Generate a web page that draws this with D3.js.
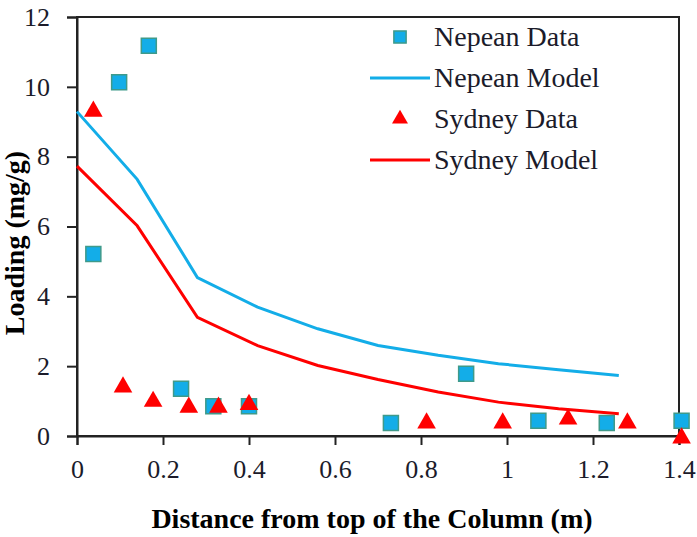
<!DOCTYPE html>
<html>
<head>
<meta charset="utf-8">
<script src="https://cdn.jsdelivr.net/npm/d3@7"></script>
<style>
  body { margin: 0; background: #fff; }
  text { font-family: "Liberation Serif", "Times New Roman", serif; }
</style>
</head>
<body>
<div id="chart"></div>
<script>
// Nepean / Sydney column data
const nepeanX = [0.038, 0.098, 0.167, 0.242, 0.317, 0.40, 0.730, 0.905, 1.073, 1.232, 1.406];
const nepeanY = [5.21, 10.13, 11.18, 1.35, 0.85, 0.85, 0.37, 1.78, 0.44, 0.37, 0.44];
const sydneyX = [0.038, 0.107, 0.177, 0.26, 0.329, 0.40, 0.813, 0.99, 1.142, 1.28, 1.406];
const sydneyY = [9.3, 1.4, 0.99, 0.82, 0.82, 0.9, 0.37, 0.37, 0.48, 0.37, -0.06];

const modelX = [0, 0.14, 0.28, 0.42, 0.56, 0.70, 0.84, 0.98, 1.12, 1.26];
const nepeanModel = [9.29, 7.35, 4.54, 3.69, 3.07, 2.59, 2.31, 2.07, 1.90, 1.73];
const sydneyModel = [7.73, 6.02, 3.40, 2.59, 2.02, 1.62, 1.26, 0.97, 0.78, 0.64];

const xTicks = [0, 0.2, 0.4, 0.6, 0.8, 1, 1.2, 1.4];
const yTicks = [0, 2, 4, 6, 8, 10, 12];

const width = 697, height = 537;
const margin = {top: 17, right: 18, bottom: 101, left: 77};

const blue = "#13ade8", red = "#ff0000";

const svg = d3.select("#chart").append("svg")
    .attr("width", width)
    .attr("height", height);

const x = d3.scaleLinear().domain([0, 1.4]).range([margin.left, width - margin.right]);
const y = d3.scaleLinear().domain([0, 12]).range([height - margin.bottom, margin.top]);

// frame
svg.append("rect")
    .attr("x", x(0)).attr("y", y(12))
    .attr("width", x(1.4) - x(0)).attr("height", y(0) - y(12))
    .attr("fill", "none").attr("stroke", "#222").attr("stroke-width", 2);

const xAxis = svg.append("g")
    .attr("transform", `translate(0,${y(0)})`)
    .call(d3.axisBottom(x).tickValues(xTicks).tickSize(9).tickPadding(15).tickFormat(d3.format("")));

const yAxis = svg.append("g")
    .attr("transform", `translate(${x(0)},0)`)
    .call(d3.axisLeft(y).tickValues(yTicks).tickSize(10).tickPadding(17));

[xAxis, yAxis].forEach(g => {
    g.select(".domain").attr("stroke", "#222").attr("stroke-width", 2);
    g.selectAll(".tick line").attr("stroke", "#222").attr("stroke-width", 2);
    g.selectAll(".tick text")
        .attr("font-family", "Liberation Serif")
        .attr("font-size", 26)
        .attr("fill", "#1b1b2a");
});

// axis titles
svg.append("text")
    .attr("x", 372).attr("y", 528)
    .attr("text-anchor", "middle")
    .attr("font-size", 28).attr("font-weight", "bold")
    .text("Distance from top of the Column (m)");

svg.append("text")
    .attr("transform", "translate(24,243) rotate(-90)")
    .attr("text-anchor", "middle")
    .attr("font-size", 28).attr("font-weight", "bold")
    .text("Loading (mg/g)");

// model lines
const line = d3.line().x(d => x(d[0])).y(d => y(d[1]));

svg.append("path")
    .datum(d3.zip(modelX, nepeanModel))
    .attr("d", line)
    .attr("fill", "none").attr("stroke", blue).attr("stroke-width", 3);

svg.append("path")
    .datum(d3.zip(modelX, sydneyModel))
    .attr("d", line)
    .attr("fill", "none").attr("stroke", red).attr("stroke-width", 3);

// data markers
const square = d3.symbol().type(d3.symbolSquare).size(225);
const triangle = d3.symbol().type(d3.symbolTriangle).size(150);

svg.append("g")
    .selectAll("path")
    .data(d3.zip(nepeanX, nepeanY))
    .join("path")
    .attr("d", square)
    .attr("transform", d => `translate(${x(d[0])},${y(d[1])})`)
    .attr("fill", blue).attr("stroke", "#3f9a8a").attr("stroke-width", 1.5);

svg.append("g")
    .selectAll("path")
    .data(d3.zip(sydneyX, sydneyY))
    .join("path")
    .attr("d", triangle)
    .attr("transform", d => `translate(${x(d[0])},${y(d[1])})`)
    .attr("fill", red);

// legend
const legend = svg.append("g").attr("font-size", 28).attr("fill", "#1b1b2a");
const items = [
    {label: "Nepean Data", kind: "square"},
    {label: "Nepean Model", kind: "line", color: blue},
    {label: "Sydney Data", kind: "triangle"},
    {label: "Sydney Model", kind: "line", color: red}
];
items.forEach((d, i) => {
    const cy = 37 + i * 41;
    if (d.kind === "line") {
        legend.append("line")
            .attr("x1", 370).attr("x2", 430).attr("y1", cy).attr("y2", cy)
            .attr("stroke", d.color).attr("stroke-width", 3);
    } else if (d.kind === "square") {
        legend.append("path")
            .attr("d", d3.symbol().type(d3.symbolSquare).size(150))
            .attr("transform", `translate(400,${cy})`)
            .attr("fill", blue).attr("stroke", "#3f9a8a").attr("stroke-width", 1.5);
    } else {
        legend.append("path")
            .attr("d", d3.symbol().type(d3.symbolTriangle).size(110))
            .attr("transform", `translate(400,${cy})`)
            .attr("fill", red);
    }
    legend.append("text")
        .attr("x", 434).attr("y", cy)
        .attr("dy", "0.33em")
        .text(d.label);
});
</script>
</body>
</html>
